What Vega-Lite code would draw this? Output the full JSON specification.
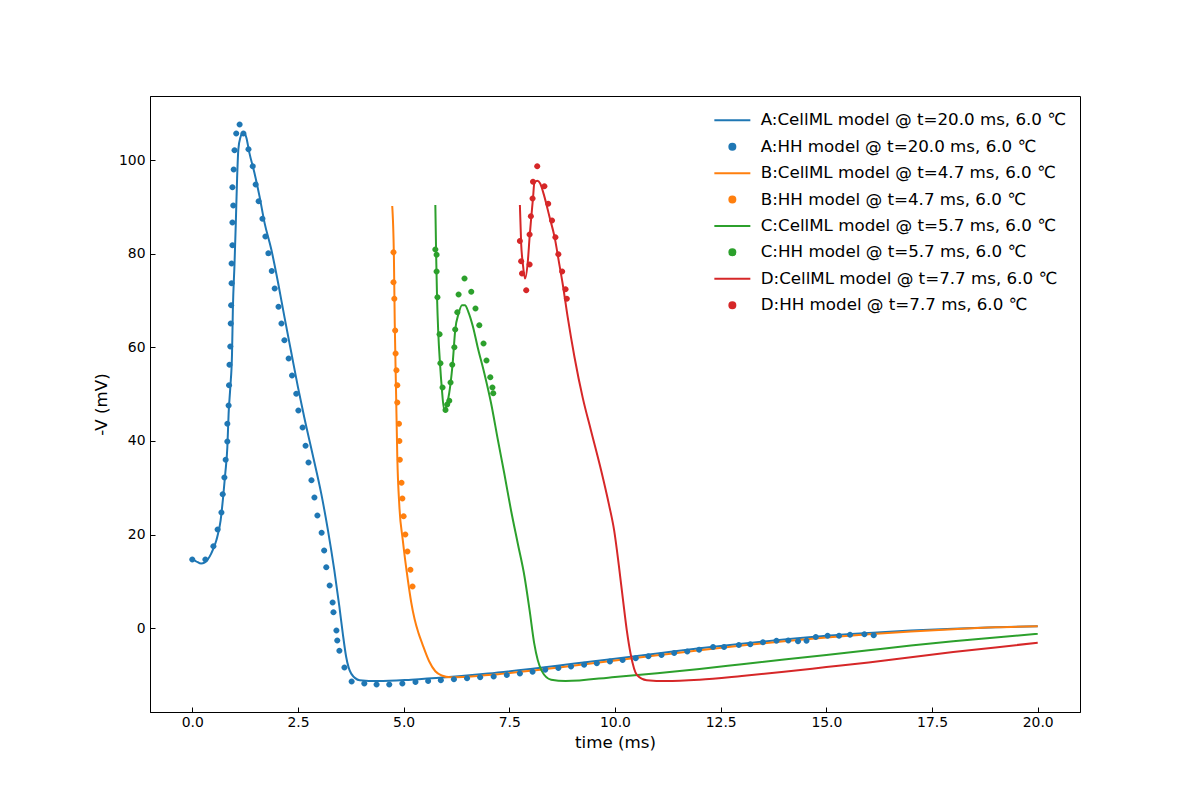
{
  "$schema": "https://vega.github.io/schema/vega-lite/v6.json",
  "width": 930,
  "height": 616,
  "autosize": {"type": "none"},
  "padding": {"left": 150, "top": 96, "right": 120, "bottom": 88},
  "datasets": {
    "names": [
      {"k": "LA", "s": "A:CellML model @ t=20.0 ms, 6.0 ℃"},
      {"k": "PA", "s": "A:HH model @ t=20.0 ms, 6.0 ℃"},
      {"k": "LB", "s": "B:CellML model @ t=4.7 ms, 6.0 ℃"},
      {"k": "PB", "s": "B:HH model @ t=4.7 ms, 6.0 ℃"},
      {"k": "LC", "s": "C:CellML model @ t=5.7 ms, 6.0 ℃"},
      {"k": "PC", "s": "C:HH model @ t=5.7 ms, 6.0 ℃"},
      {"k": "LD", "s": "D:CellML model @ t=7.7 ms, 6.0 ℃"},
      {"k": "PD", "s": "D:HH model @ t=7.7 ms, 6.0 ℃"}
    ],
    "lines": [
      {"k":"LA","t":0,"v":14.7},{"k":"LA","t":0.09,"v":14.3},{"k":"LA","t":0.21,"v":13.8},{"k":"LA","t":0.29,"v":14.0},{"k":"LA","t":0.45,"v":16.0},{"k":"LA","t":0.57,"v":18.8},{"k":"LA","t":0.67,"v":23.0},{"k":"LA","t":0.73,"v":28.0},{"k":"LA","t":0.78,"v":33.0},{"k":"LA","t":0.83,"v":38.7},{"k":"LA","t":0.86,"v":45.9},{"k":"LA","t":0.90,"v":51.5},{"k":"LA","t":0.94,"v":58.5},{"k":"LA","t":0.96,"v":68.0},{"k":"LA","t":1.00,"v":78.0},{"k":"LA","t":1.03,"v":86.6},{"k":"LA","t":1.06,"v":96.0},{"k":"LA","t":1.09,"v":102.3},{"k":"LA","t":1.14,"v":104.9},{"k":"LA","t":1.21,"v":106.0},{"k":"LA","t":1.28,"v":104.8},{"k":"LA","t":1.35,"v":101.6},{"k":"LA","t":1.47,"v":97.3},{"k":"LA","t":1.59,"v":92.3},{"k":"LA","t":1.71,"v":86.6},{"k":"LA","t":1.87,"v":80.9},{"k":"LA","t":2.03,"v":73.8},{"k":"LA","t":2.18,"v":66.5},{"k":"LA","t":2.34,"v":59.0},{"k":"LA","t":2.50,"v":51.5},{"k":"LA","t":2.65,"v":45.0},{"k":"LA","t":2.85,"v":37.0},{"k":"LA","t":3.05,"v":28.8},{"k":"LA","t":3.21,"v":20.9},{"k":"LA","t":3.36,"v":12.4},{"k":"LA","t":3.48,"v":4.6},{"k":"LA","t":3.56,"v":-1.1},{"k":"LA","t":3.64,"v":-6.1},{"k":"LA","t":3.76,"v":-9.7},{"k":"LA","t":3.96,"v":-11.1},{"k":"LA","t":4.39,"v":-11.3},{"k":"LA","t":5.18,"v":-11.0},{"k":"LA","t":6,"v":-10.5},{"k":"LA","t":7,"v":-9.7},{"k":"LA","t":8,"v":-8.7},{"k":"LA","t":9,"v":-7.6},{"k":"LA","t":10,"v":-6.5},{"k":"LA","t":11,"v":-5.4},{"k":"LA","t":12,"v":-4.3},{"k":"LA","t":13,"v":-3.3},{"k":"LA","t":14,"v":-2.4},{"k":"LA","t":15,"v":-1.6},{"k":"LA","t":16,"v":-1.0},{"k":"LA","t":17,"v":-0.5},{"k":"LA","t":18,"v":-0.1},{"k":"LA","t":19,"v":0.2},{"k":"LA","t":20,"v":0.4},
      {"k":"LB","t":4.73,"v":90.2},{"k":"LB","t":4.77,"v":79.3},{"k":"LB","t":4.79,"v":65.1},{"k":"LB","t":4.82,"v":50.9},{"k":"LB","t":4.85,"v":36.6},{"k":"LB","t":4.90,"v":25.9},{"k":"LB","t":4.98,"v":18.8},{"k":"LB","t":5.10,"v":10.3},{"k":"LB","t":5.18,"v":5.5},{"k":"LB","t":5.26,"v":1.9},{"k":"LB","t":5.35,"v":-1.0},{"k":"LB","t":5.44,"v":-3.3},{"k":"LB","t":5.60,"v":-7.0},{"k":"LB","t":5.75,"v":-9.2},{"k":"LB","t":5.90,"v":-10.1},{"k":"LB","t":6.11,"v":-10.5},{"k":"LB","t":7,"v":-10.0},{"k":"LB","t":8,"v":-9.1},{"k":"LB","t":9,"v":-8.0},{"k":"LB","t":10,"v":-6.9},{"k":"LB","t":11,"v":-5.8},{"k":"LB","t":12,"v":-4.7},{"k":"LB","t":13,"v":-3.7},{"k":"LB","t":14,"v":-2.8},{"k":"LB","t":15,"v":-2.0},{"k":"LB","t":16,"v":-1.3},{"k":"LB","t":17,"v":-0.7},{"k":"LB","t":18,"v":-0.2},{"k":"LB","t":19,"v":0.2},{"k":"LB","t":20,"v":0.4},
      {"k":"LC","t":5.75,"v":90.4},{"k":"LC","t":5.77,"v":79.3},{"k":"LC","t":5.79,"v":70.8},{"k":"LC","t":5.82,"v":63.0},{"k":"LC","t":5.86,"v":56.6},{"k":"LC","t":5.90,"v":51.6},{"k":"LC","t":5.96,"v":46.6},{"k":"LC","t":6.04,"v":48.4},{"k":"LC","t":6.11,"v":52.3},{"k":"LC","t":6.16,"v":56.6},{"k":"LC","t":6.22,"v":63.7},{"k":"LC","t":6.30,"v":67.2},{"k":"LC","t":6.38,"v":69.0},{"k":"LC","t":6.45,"v":69.0},{"k":"LC","t":6.53,"v":67.6},{"k":"LC","t":6.64,"v":64.4},{"k":"LC","t":6.75,"v":60.1},{"k":"LC","t":6.91,"v":54.4},{"k":"LC","t":7.07,"v":48.0},{"k":"LC","t":7.23,"v":40.2},{"k":"LC","t":7.38,"v":33.1},{"k":"LC","t":7.54,"v":25.2},{"k":"LC","t":7.70,"v":18.1},{"k":"LC","t":7.86,"v":11.0},{"k":"LC","t":7.98,"v":3.8},{"k":"LC","t":8.09,"v":-3.3},{"k":"LC","t":8.26,"v":-9.0},{"k":"LC","t":8.49,"v":-11.0},{"k":"LC","t":8.83,"v":-11.3},{"k":"LC","t":10,"v":-10.4},{"k":"LC","t":11,"v":-9.6},{"k":"LC","t":12,"v":-8.7},{"k":"LC","t":13,"v":-7.7},{"k":"LC","t":14,"v":-6.7},{"k":"LC","t":15,"v":-5.7},{"k":"LC","t":16,"v":-4.7},{"k":"LC","t":17,"v":-3.7},{"k":"LC","t":18,"v":-2.8},{"k":"LC","t":19,"v":-2.0},{"k":"LC","t":20,"v":-1.2},
      {"k":"LD","t":7.75,"v":90.4},{"k":"LD","t":7.78,"v":82.2},{"k":"LD","t":7.82,"v":77.9},{"k":"LD","t":7.87,"v":74.7},{"k":"LD","t":7.94,"v":78.6},{"k":"LD","t":7.98,"v":83.6},{"k":"LD","t":8.02,"v":87.9},{"k":"LD","t":8.06,"v":91.8},{"k":"LD","t":8.09,"v":95.0},{"k":"LD","t":8.16,"v":95.6},{"k":"LD","t":8.23,"v":95.0},{"k":"LD","t":8.33,"v":92.2},{"k":"LD","t":8.45,"v":87.9},{"k":"LD","t":8.57,"v":83.6},{"k":"LD","t":8.68,"v":77.9},{"k":"LD","t":8.76,"v":73.7},{"k":"LD","t":8.88,"v":66.5},{"k":"LD","t":9.04,"v":58.0},{"k":"LD","t":9.24,"v":49.1},{"k":"LD","t":9.43,"v":42.3},{"k":"LD","t":9.67,"v":33.8},{"k":"LD","t":9.86,"v":26.3},{"k":"LD","t":9.98,"v":20.9},{"k":"LD","t":10.09,"v":13.5},{"k":"LD","t":10.19,"v":6.0},{"k":"LD","t":10.28,"v":-0.5},{"k":"LD","t":10.37,"v":-5.5},{"k":"LD","t":10.52,"v":-10.0},{"k":"LD","t":10.75,"v":-11.1},{"k":"LD","t":11.21,"v":-11.3},{"k":"LD","t":12,"v":-11.0},{"k":"LD","t":13,"v":-10.2},{"k":"LD","t":14,"v":-9.3},{"k":"LD","t":15,"v":-8.3},{"k":"LD","t":16,"v":-7.3},{"k":"LD","t":17,"v":-6.2},{"k":"LD","t":18,"v":-5.1},{"k":"LD","t":19,"v":-4.1},{"k":"LD","t":20,"v":-3.1}
    ],
    "dots": [
      {"k":"PA","t":0.0,"v":14.7},{"k":"PA","t":0.31,"v":14.7},{"k":"PA","t":0.50,"v":17.5},{"k":"PA","t":0.60,"v":21.1},{"k":"PA","t":0.69,"v":24.7},{"k":"PA","t":0.72,"v":28.6},{"k":"PA","t":0.76,"v":32.2},{"k":"PA","t":0.79,"v":36.0},{"k":"PA","t":0.83,"v":39.9},{"k":"PA","t":0.83,"v":43.7},{"k":"PA","t":0.86,"v":47.6},{"k":"PA","t":0.87,"v":51.9},{"k":"PA","t":0.88,"v":56.3},{"k":"PA","t":0.90,"v":60.2},{"k":"PA","t":0.91,"v":65.1},{"k":"PA","t":0.92,"v":69.0},{"k":"PA","t":0.93,"v":73.7},{"k":"PA","t":0.93,"v":77.9},{"k":"PA","t":0.95,"v":81.8},{"k":"PA","t":0.95,"v":86.7},{"k":"PA","t":0.97,"v":90.3},{"k":"PA","t":0.95,"v":94.2},{"k":"PA","t":0.98,"v":98.0},{"k":"PA","t":1.00,"v":102.1},{"k":"PA","t":1.04,"v":105.7},{"k":"PA","t":1.12,"v":107.6},{"k":"PA","t":1.21,"v":105.7},{"k":"PA","t":1.33,"v":102.3},{"k":"PA","t":1.43,"v":98.7},{"k":"PA","t":1.50,"v":94.8},{"k":"PA","t":1.57,"v":91.2},{"k":"PA","t":1.66,"v":87.5},{"k":"PA","t":1.73,"v":83.7},{"k":"PA","t":1.80,"v":80.1},{"k":"PA","t":1.88,"v":76.3},{"k":"PA","t":1.95,"v":72.6},{"k":"PA","t":2.04,"v":68.7},{"k":"PA","t":2.11,"v":65.1},{"k":"PA","t":2.18,"v":61.5},{"k":"PA","t":2.28,"v":57.6},{"k":"PA","t":2.36,"v":54.0},{"k":"PA","t":2.46,"v":50.1},{"k":"PA","t":2.51,"v":46.5},{"k":"PA","t":2.61,"v":42.9},{"k":"PA","t":2.68,"v":39.0},{"k":"PA","t":2.75,"v":35.4},{"k":"PA","t":2.82,"v":31.6},{"k":"PA","t":2.89,"v":27.9},{"k":"PA","t":2.96,"v":24.1},{"k":"PA","t":3.06,"v":20.4},{"k":"PA","t":3.12,"v":16.6},{"k":"PA","t":3.17,"v":13.0},{"k":"PA","t":3.25,"v":9.1},{"k":"PA","t":3.32,"v":5.5},{"k":"PA","t":3.34,"v":3.4},{"k":"PA","t":3.41,"v":-0.5},{"k":"PA","t":3.43,"v":-2.6},{"k":"PA","t":3.48,"v":-4.8},{"k":"PA","t":3.60,"v":-8.4},{"k":"PA","t":3.77,"v":-11.4},{"k":"PA","t":4.07,"v":-11.8},{"k":"PA","t":4.36,"v":-12.0},{"k":"PA","t":4.66,"v":-12.0},{"k":"PA","t":4.97,"v":-11.8},{"k":"PA","t":5.28,"v":-11.5},{"k":"PA","t":5.58,"v":-11.3},{"k":"PA","t":5.88,"v":-11.1},{"k":"PA","t":6.19,"v":-10.9},{"k":"PA","t":6.50,"v":-10.7},{"k":"PA","t":6.81,"v":-10.5},{"k":"PA","t":7.13,"v":-10.3},{"k":"PA","t":7.44,"v":-10.0},{"k":"PA","t":7.75,"v":-9.7},{"k":"PA","t":8.05,"v":-9.3},{"k":"PA","t":8.35,"v":-8.9},{"k":"PA","t":8.66,"v":-8.5},{"k":"PA","t":8.96,"v":-8.2},{"k":"PA","t":9.27,"v":-7.8},{"k":"PA","t":9.57,"v":-7.5},{"k":"PA","t":9.88,"v":-7.1},{"k":"PA","t":10.18,"v":-6.8},{"k":"PA","t":10.49,"v":-6.4},{"k":"PA","t":10.79,"v":-6.0},{"k":"PA","t":11.10,"v":-5.7},{"k":"PA","t":11.40,"v":-5.3},{"k":"PA","t":11.71,"v":-5.0},{"k":"PA","t":11.99,"v":-4.6},{"k":"PA","t":12.32,"v":-4.0},{"k":"PA","t":12.58,"v":-4.0},{"k":"PA","t":12.93,"v":-3.6},{"k":"PA","t":13.20,"v":-3.4},{"k":"PA","t":13.50,"v":-3.0},{"k":"PA","t":13.82,"v":-2.7},{"k":"PA","t":14.10,"v":-2.6},{"k":"PA","t":14.33,"v":-2.8},{"k":"PA","t":14.53,"v":-2.7},{"k":"PA","t":14.75,"v":-1.9},{"k":"PA","t":15.03,"v":-1.6},{"k":"PA","t":15.30,"v":-1.6},{"k":"PA","t":15.56,"v":-1.4},{"k":"PA","t":15.90,"v":-1.3},{"k":"PA","t":16.12,"v":-1.5},
      {"k":"PB","t":4.76,"v":80.3},{"k":"PB","t":4.76,"v":73.9},{"k":"PB","t":4.78,"v":70.4},{"k":"PB","t":4.80,"v":63.6},{"k":"PB","t":4.81,"v":58.7},{"k":"PB","t":4.83,"v":55.1},{"k":"PB","t":4.85,"v":51.9},{"k":"PB","t":4.85,"v":48.2},{"k":"PB","t":4.89,"v":43.7},{"k":"PB","t":4.90,"v":40.0},{"k":"PB","t":4.91,"v":36.0},{"k":"PB","t":4.95,"v":31.1},{"k":"PB","t":4.97,"v":27.7},{"k":"PB","t":5.00,"v":23.9},{"k":"PB","t":5.04,"v":20.0},{"k":"PB","t":5.09,"v":16.4},{"k":"PB","t":5.16,"v":12.5},{"k":"PB","t":5.21,"v":8.9},
      {"k":"PC","t":5.75,"v":80.9},{"k":"PC","t":5.78,"v":79.8},{"k":"PC","t":5.78,"v":76.2},{"k":"PC","t":5.80,"v":70.7},{"k":"PC","t":5.85,"v":62.8},{"k":"PC","t":5.87,"v":56.6},{"k":"PC","t":5.92,"v":51.4},{"k":"PC","t":5.99,"v":46.6},{"k":"PC","t":6.03,"v":47.8},{"k":"PC","t":6.08,"v":48.6},{"k":"PC","t":6.11,"v":52.5},{"k":"PC","t":6.15,"v":56.3},{"k":"PC","t":6.20,"v":60.0},{"k":"PC","t":6.22,"v":63.8},{"k":"PC","t":6.27,"v":67.5},{"k":"PC","t":6.30,"v":71.3},{"k":"PC","t":6.44,"v":74.7},{"k":"PC","t":6.60,"v":71.9},{"k":"PC","t":6.70,"v":68.3},{"k":"PC","t":6.79,"v":64.7},{"k":"PC","t":6.89,"v":60.8},{"k":"PC","t":6.96,"v":57.2},{"k":"PC","t":7.05,"v":53.6},{"k":"PC","t":7.10,"v":51.4},{"k":"PC","t":7.12,"v":50.2},
      {"k":"PD","t":7.75,"v":82.7},{"k":"PD","t":7.78,"v":78.4},{"k":"PD","t":7.80,"v":75.8},{"k":"PD","t":7.90,"v":72.2},{"k":"PD","t":7.98,"v":77.7},{"k":"PD","t":7.98,"v":84.1},{"k":"PD","t":8.01,"v":88.0},{"k":"PD","t":8.05,"v":91.8},{"k":"PD","t":8.06,"v":95.4},{"k":"PD","t":8.16,"v":98.7},{"k":"PD","t":8.33,"v":94.4},{"k":"PD","t":8.42,"v":90.7},{"k":"PD","t":8.51,"v":87.1},{"k":"PD","t":8.59,"v":83.5},{"k":"PD","t":8.66,"v":79.9},{"k":"PD","t":8.75,"v":76.2},{"k":"PD","t":8.83,"v":72.4},{"k":"PD","t":8.86,"v":70.4}
    ]
  },
  "layer": [
    {
      "data": {"name": "lines"},
      "transform": [{"lookup": "k", "from": {"data": {"name": "names"}, "key": "k", "fields": ["s"]}}],
      "mark": {"type": "line", "strokeWidth": 2, "clip": true, "interpolate": "monotone"},
      "encoding": {
        "x": {"field": "t", "type": "quantitative", "scale": {"domain": [-1, 21], "nice": false, "zero": false}, "axis": {"title": "time (ms)", "values": [0, 2.5, 5, 7.5, 10, 12.5, 15, 17.5, 20], "format": ".1f"}},
        "y": {"field": "v", "type": "quantitative", "scale": {"domain": [-17.9, 113.7], "nice": false, "zero": false}, "axis": {"title": "-V (mV)", "values": [0, 20, 40, 60, 80, 100]}},
        "color": {
          "field": "s", "type": "nominal",
          "scale": {
            "domain": ["A:CellML model @ t=20.0 ms, 6.0 ℃", "A:HH model @ t=20.0 ms, 6.0 ℃", "B:CellML model @ t=4.7 ms, 6.0 ℃", "B:HH model @ t=4.7 ms, 6.0 ℃", "C:CellML model @ t=5.7 ms, 6.0 ℃", "C:HH model @ t=5.7 ms, 6.0 ℃", "D:CellML model @ t=7.7 ms, 6.0 ℃", "D:HH model @ t=7.7 ms, 6.0 ℃"],
            "range": ["#1f77b4", "#1f77b4", "#ff7f0e", "#ff7f0e", "#2ca02c", "#2ca02c", "#d62728", "#d62728"]
          },
          "legend": {
            "orient": "none", "legendX": 574, "legendY": 16, "title": null, "padding": 0,
            "labelFontSize": 16.7, "labelColor": "#000", "labelLimit": 500, "labelOffset": 20,
            "symbolSize": 144, "rowPadding": 8.4, "symbolOpacity": 1,
            "encode": {"symbols": {"update": {
              "stroke": [{"test": "indexof(datum.value, 'CellML') >= 0", "scale": "color", "field": "value"}, {"value": "transparent"}],
              "strokeWidth": {"value": 2}
            }}}
          }
        }
      }
    },
    {
      "data": {"name": "dots"},
      "transform": [{"lookup": "k", "from": {"data": {"name": "names"}, "key": "k", "fields": ["s"]}}],
      "mark": {"type": "point", "filled": true, "opacity": 1, "size": 144, "clip": true},
      "encoding": {
        "x": {"field": "t", "type": "quantitative"},
        "y": {"field": "v", "type": "quantitative"},
        "color": {"field": "s", "type": "nominal"},
        "shape": {
          "field": "s", "type": "nominal",
          "scale": {
            "domain": ["A:CellML model @ t=20.0 ms, 6.0 ℃", "A:HH model @ t=20.0 ms, 6.0 ℃", "B:CellML model @ t=4.7 ms, 6.0 ℃", "B:HH model @ t=4.7 ms, 6.0 ℃", "C:CellML model @ t=5.7 ms, 6.0 ℃", "C:HH model @ t=5.7 ms, 6.0 ℃", "D:CellML model @ t=7.7 ms, 6.0 ℃", "D:HH model @ t=7.7 ms, 6.0 ℃"],
            "range": ["M-3,0H3", "M-0.5,0A0.5,0.5,0,1,1,0.5,0A0.5,0.5,0,1,1,-0.5,0Z", "M-3,0H3", "M-0.5,0A0.5,0.5,0,1,1,0.5,0A0.5,0.5,0,1,1,-0.5,0Z", "M-3,0H3", "M-0.5,0A0.5,0.5,0,1,1,0.5,0A0.5,0.5,0,1,1,-0.5,0Z", "M-3,0H3", "M-0.5,0A0.5,0.5,0,1,1,0.5,0A0.5,0.5,0,1,1,-0.5,0Z"]
          },
          "legend": {
            "orient": "none", "legendX": 574, "legendY": 16, "title": null, "padding": 0,
            "labelFontSize": 16.7, "labelColor": "#000", "labelLimit": 500, "labelOffset": 20,
            "symbolSize": 144, "rowPadding": 8.4, "symbolOpacity": 1,
            "encode": {"symbols": {"update": {
              "stroke": [{"test": "indexof(datum.value, 'CellML') >= 0", "scale": "color", "field": "value"}, {"value": "transparent"}],
              "strokeWidth": {"value": 2}
            }}}
          }
        }
      }
    }
  ],
  "config": {
    "font": "DejaVu Sans",
    "view": {"stroke": "#000", "strokeWidth": 1},
    "axis": {"grid": false, "domainColor": "#000", "tickColor": "#000", "labelColor": "#000", "titleColor": "#000", "labelFontSize": 13.9, "titleFontSize": 16.7, "titleFontWeight": "normal", "tickSize": -5, "domainWidth": 1, "tickWidth": 1},
    "axisX": {"labelPadding": 8, "titlePadding": 6},
    "axisY": {"labelPadding": 10, "titlePadding": 8}
  }
}
